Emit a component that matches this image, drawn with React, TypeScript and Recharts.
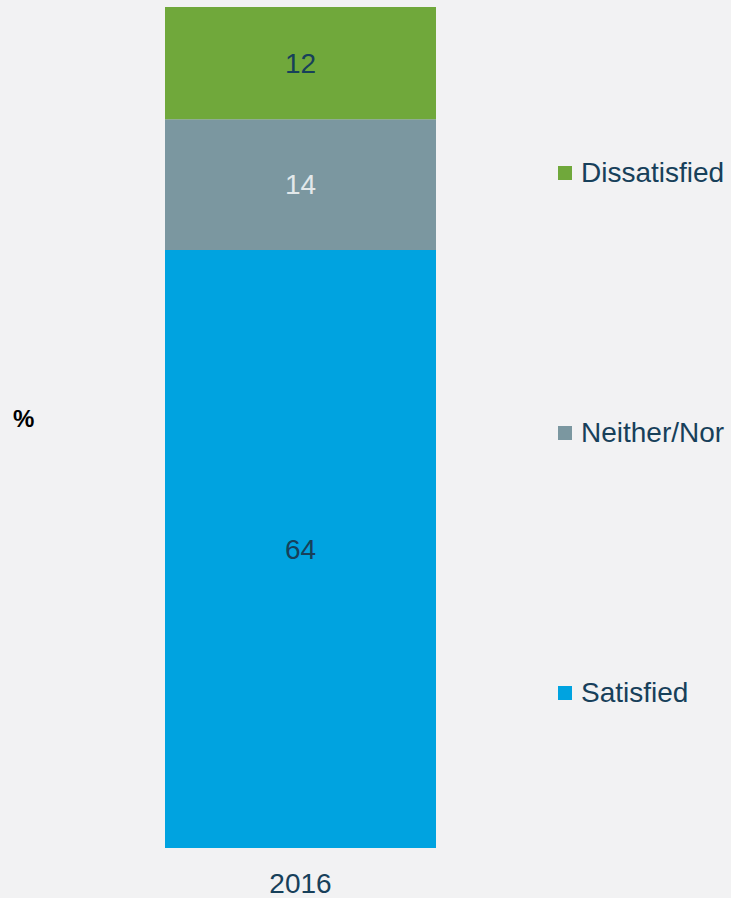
import React from 'react';
import { BarChart, Bar, XAxis, YAxis, LabelList } from 'recharts';

const categories = ['2016'];
const satisfied = [64];
const neither = [14];
const dissatisfied = [12];

const seriesNames = ['Satisfied', 'Neither/Nor', 'Dissatisfied'];
const seriesColors = ['#00a3e0', '#7b97a0', '#70a83b'];
const labelColors = ['#17405a', '#e2e8ea', '#17405a'];

const FONT = '"Liberation Sans", Arial, sans-serif';
const TEXT = '#17405a';

const data = categories.map((c, i) => ({
  year: c,
  satisfied: satisfied[i],
  neither: neither[i],
  dissatisfied: dissatisfied[i],
}));

const keys = ['satisfied', 'neither', 'dissatisfied'];

// legend lists top to bottom, reverse of stack order
const LegendBox = () => (
  <div style={{ position: 'absolute', left: 558, top: 0, width: 173, height: 898 }}>
    {[2, 1, 0].map((s, idx) => (
      <div
        key={s}
        style={{
          position: 'absolute',
          left: 0,
          top: 173 + idx * 260 - 17,
          height: 34,
          display: 'flex',
          alignItems: 'center',
          fontFamily: FONT,
          fontSize: 28,
          color: TEXT,
          whiteSpace: 'nowrap',
        }}
      >
        <span style={{ display: 'inline-block', width: 14, height: 14, background: seriesColors[s], marginRight: 9 }} />
        {seriesNames[s]}
      </div>
    ))}
  </div>
);

export default function App() {
  return (
    <div style={{ position: 'absolute', left: 0, top: 0, width: 731, height: 898, background: '#f2f2f3', overflow: 'hidden' }}>
      <div style={{ position: 'absolute', left: 13, top: 405, fontFamily: FONT, fontWeight: 'bold', fontSize: 24, color: '#000' }}>%</div>
      <BarChart
        width={731}
        height={898}
        data={data}
        margin={{ top: 7, right: 295, bottom: 0, left: 165 }}
        barCategoryGap={0}
      >
        <XAxis
          dataKey="year"
          height={50}
          axisLine={false}
          tickLine={false}
          tickMargin={19}
          tick={{ fontSize: 28, fill: TEXT, fontFamily: FONT }}
        />
        <YAxis hide domain={[0, 90]} />
        {keys.map((k, i) => (
          <Bar key={k} dataKey={k} stackId="a" fill={seriesColors[i]} isAnimationActive={false}>
            <LabelList dataKey={k} position="center" fill={labelColors[i]} fontSize={28} fontFamily={FONT} />
          </Bar>
        ))}
      </BarChart>
      <LegendBox />
    </div>
  );
}
